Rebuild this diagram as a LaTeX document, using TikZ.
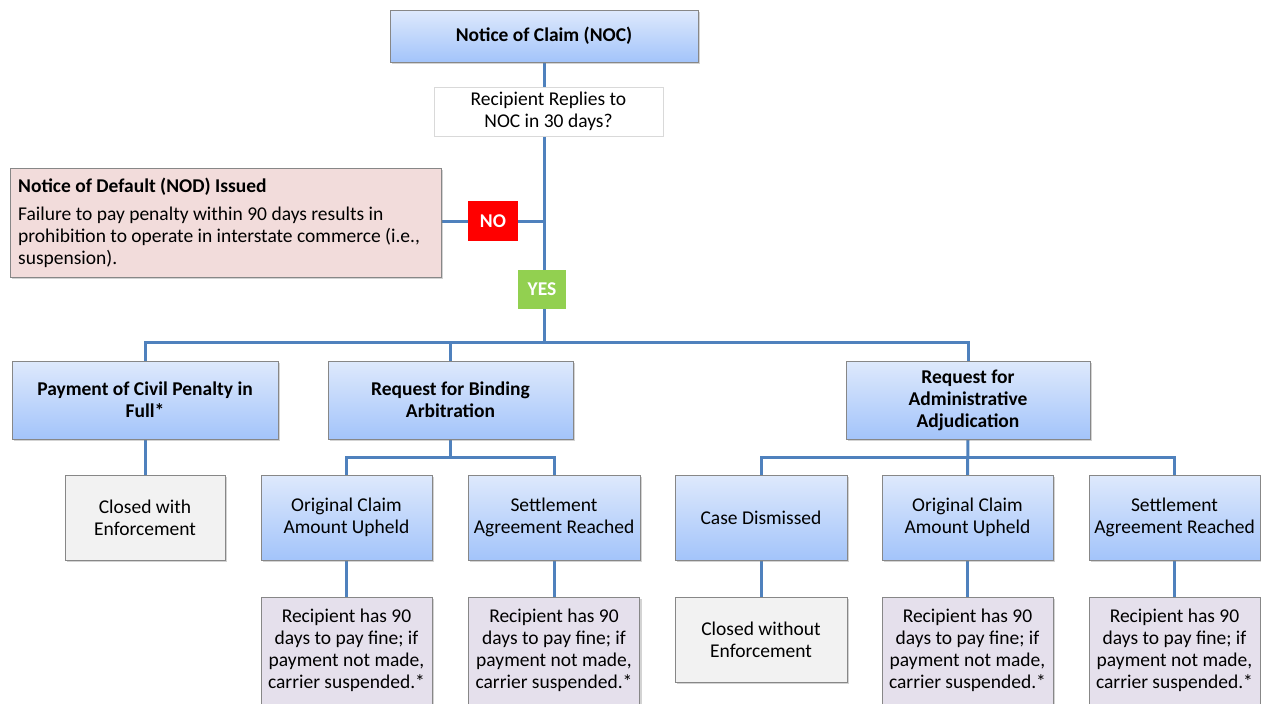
\documentclass[tikz,border=0pt]{standalone}
\usepackage{fontspec}
\setmainfont{Carlito}
\usetikzlibrary{shapes, arrows, positioning, calc, shadows, backgrounds}

\definecolor{linkblue}{RGB}{79,129,189}
\definecolor{boxtop}{RGB}{222,233,252}
\definecolor{boxbot}{RGB}{163,196,250}
\definecolor{boxline}{RGB}{135,135,135}
\definecolor{nodpink}{RGB}{242,220,219}
\definecolor{closedgray}{RGB}{242,242,242}
\definecolor{finelilac}{RGB}{229,224,236}
\definecolor{yesgreen}{RGB}{146,208,80}

\newcommand{\chartfont}{\fontsize{19.5}{22}\selectfont}

\tikzset{
  shadowed/.style={drop shadow={shadow xshift=2pt, shadow yshift=-2pt, opacity=0.35}},
  stepbox/.style={draw=boxline, top color=boxtop, bottom color=boxbot, shadowed, align=center, inner sep=2pt},
  leafbox/.style={draw=boxline, fill=closedgray, shadowed, align=center, inner sep=2pt},
  finebox/.style={draw=boxline, fill=finelilac, shadowed, align=center, inner xsep=2pt, inner ysep=12pt},
  answer/.style={text=white, font=\chartfont\bfseries, inner sep=0pt},
  bold/.style={font=\chartfont\bfseries},
  link/.style={draw=linkblue, line width=3pt}
}

\begin{document}
\begin{tikzpicture}[x=1pt,y=1pt,yscale=-1,xscale=1,font=\chartfont]
\useasboundingbox (0,0) rectangle (1261,704);
\clip (0,0) rectangle (1261,704);

%Top: claim and question
\node [stepbox, bold, minimum width=308, minimum height=52] (noc) at (544,36) {Notice of Claim (NOC)};
\node [draw={rgb,255:red,217;green,217;blue,217}, fill=white, align=center, minimum width=229, minimum height=49, inner sep=0pt] (ask) at (548.5,111.5) {Recipient Replies to\\NOC in 30 days?};

%Default branch
\node [draw=boxline, fill=nodpink, shadowed, anchor=north west, align=flush left, text width=415, minimum width=431, minimum height=109, inner xsep=8pt, inner ysep=7pt] (nod) at (10,168) {\textbf{Notice of Default (NOD) Issued}\\[6pt]Failure to pay penalty within 90 days results in\\prohibition to operate in interstate commerce (i.e.,\\suspension).};
\node [answer, fill=red, minimum width=50, minimum height=40] (no) at (493,221) {NO};
\node [answer, fill=yesgreen, minimum width=48, minimum height=39] (yes) at (542,289.5) {YES};
\coordinate (bus) at (544,342);

%Second row
\node [stepbox, bold, minimum width=266, minimum height=78] (pay) at (145,400) {Payment of Civil Penalty in\\Full*};
\node [stepbox, bold, minimum width=245, minimum height=78] (bind) at (450.5,400) {Request for Binding\\Arbitration};
\node [stepbox, bold, minimum width=244, minimum height=78] (admin) at (968,400) {Request for\\Administrative\\Adjudication};
\coordinate (bsplit) at (450.5,457);
\coordinate (asplit) at (968,457);

%Third row
\node [leafbox, minimum width=160, minimum height=85] (closedw) at (145,517.5) {Closed with\\Enforcement};
\node [stepbox, minimum width=171, minimum height=85] (origb) at (346.5,517.5) {Original Claim\\Amount Upheld};
\node [stepbox, minimum width=172, minimum height=85] (settleb) at (554,517.5) {Settlement\\Agreement Reached};
\node [stepbox, minimum width=172, minimum height=85] (dismiss) at (761,517.5) {Case Dismissed};
\node [stepbox, minimum width=171, minimum height=85] (origa) at (967.5,517.5) {Original Claim\\Amount Upheld};
\node [stepbox, minimum width=171, minimum height=85] (settlea) at (1174.5,517.5) {Settlement\\Agreement Reached};

%Bottom row
\node [leafbox, minimum width=172, minimum height=85] (closedwo) at (761,639.5) {Closed without\\Enforcement};
\foreach \name/\xpos in {fineb1/346.5, fineb2/554, finea1/967.5, finea2/1174.5}
  \node [finebox, anchor=north, minimum width=171, text depth=40pt] (\name) at (\xpos,597) {Recipient has 90\\days to pay fine; if\\payment not made,\\carrier suspended.*};

%Connectors
\begin{scope}[on background layer]
  \draw [link] (noc.south) -- (bus);
  \draw [link] (no.west -| nod.east) -- (no.west);
  \draw [link] (no.east) -- (no.east -| bus);
  \draw [link] (pay.north) |- (bus) -| (admin.north);
  \draw [link] (bind.north) -- (bind.north |- bus);
  \draw [link] (pay) -- (closedw);
  \draw [link] (bind.south) -- (bsplit);
  \draw [link] (origb.north) |- (bsplit) -| (settleb.north);
  \draw [link] (dismiss.north) |- (asplit) -| (settlea.north);
  \draw [link] (admin.south) -- (origa.north);
  \draw [link] (origb) -- (fineb1);
  \draw [link] (settleb) -- (fineb2);
  \draw [link] (dismiss) -- (closedwo);
  \draw [link] (origa) -- (finea1);
  \draw [link] (settlea) -- (finea2);
\end{scope}
\end{tikzpicture}
\end{document}
